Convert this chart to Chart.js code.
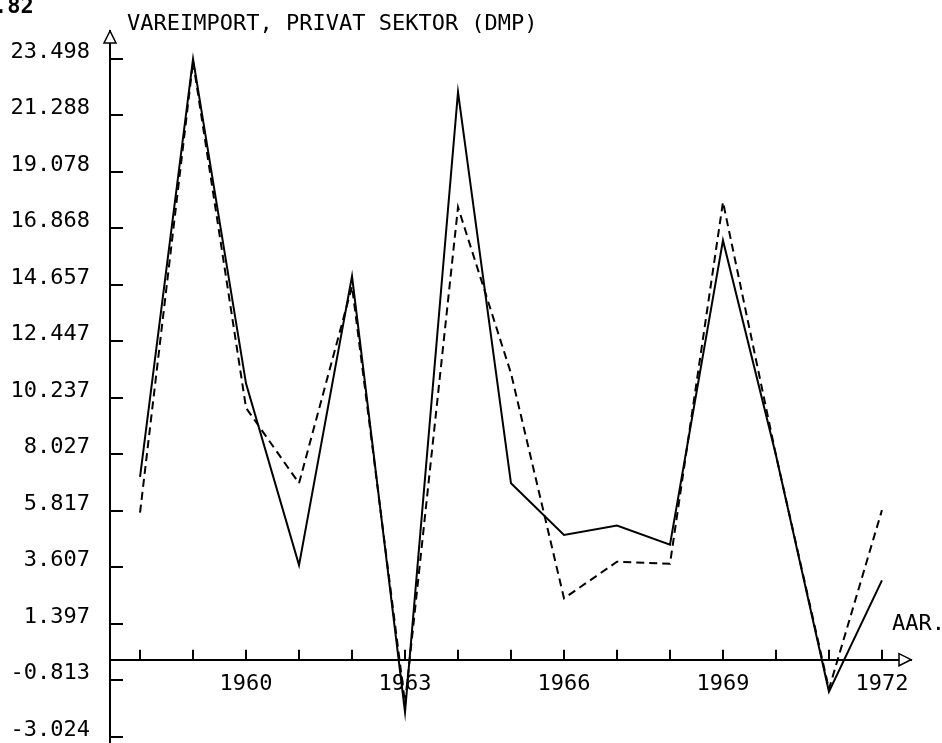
<!DOCTYPE html>
<html>
<head>
<meta charset="utf-8">
<script src="https://cdn.jsdelivr.net/npm/chart.js@4.4.1/dist/chart.umd.min.js"></script>
<style>
  html, body { margin: 0; padding: 0; background: #fff; }
  #wrap { width: 942px; height: 743px; position: relative; }
</style>
</head>
<body>
<div id="wrap"><canvas id="chart"></canvas></div>
<script>
// data
const years = [1958, 1959, 1960, 1961, 1962, 1963, 1964, 1965, 1966, 1967, 1968, 1969, 1970, 1971, 1972];
const solidValues = [7.15, 23.5, 10.8, 3.7, 15.0, -2.05, 22.2, 6.9, 4.88, 5.25, 4.5, 16.4, 8.0, -1.25, 3.1];
const dashedValues = [5.75, 23.4, 9.85, 6.9, 14.6, -1.7, 17.7, 11.2, 2.4, 3.83, 3.75, 17.9, 8.0, -1.15, 5.85];
const xTickLabels = [1960, 1963, 1966, 1969, 1972];
const yTickLabels = ['-3.024', '-0.813', '1.397', '3.607', '5.817', '8.027', '10.237',
                     '12.447', '14.657', '16.868', '19.078', '21.288', '23.498'];
const titleText = 'VAREIMPORT, PRIVAT SEKTOR (DMP)';
const axisLabelX = 'AAR.';
const pageNo = '.82';

const FONT = '"DejaVu Sans Mono", monospace';

const toPoints = vals => vals.map((v, i) => ({ x: years[i], y: v }));

// tick marks, arrow heads and loose texts
const axisDecor = {
  id: 'axisDecor',
  afterDraw(chart) {
    const { ctx, chartArea, scales: { x, y } } = chart;
    const left = chartArea.left;
    const y0 = y.getPixelForValue(0);
    ctx.save();
    ctx.strokeStyle = '#000';
    ctx.lineWidth = 2;
    ctx.beginPath();
    yTickLabels.forEach(l => {
      const py = Math.round(y.getPixelForValue(parseFloat(l)));
      ctx.moveTo(left, py);
      ctx.lineTo(left + 13, py);
    });
    years.forEach(yr => {
      const px = Math.round(x.getPixelForValue(yr));
      ctx.moveTo(px, y0);
      ctx.lineTo(px, y0 - 10);
    });
    // y axis runs on to the page edge
    ctx.moveTo(left, chartArea.bottom);
    ctx.lineTo(left, chart.height);
    ctx.stroke();

    // arrow on y axis
    const top = chartArea.top;
    ctx.lineWidth = 1.5;
    ctx.beginPath();
    ctx.moveTo(left, top);
    ctx.lineTo(left - 6, top + 12);
    ctx.lineTo(left + 6, top + 12);
    ctx.closePath();
    ctx.fillStyle = '#fff';
    ctx.fill();
    ctx.stroke();
    // arrow on x axis
    const right = chartArea.right;
    ctx.beginPath();
    ctx.moveTo(right, y0);
    ctx.lineTo(right - 12, y0 - 6);
    ctx.lineTo(right - 12, y0 + 6);
    ctx.closePath();
    ctx.fill();
    ctx.stroke();

    ctx.fillStyle = '#000';
    ctx.textAlign = 'left';
    ctx.textBaseline = 'alphabetic';
    ctx.font = '22px ' + FONT;
    ctx.fillText(titleText, 127, 30);
    ctx.fillText(axisLabelX, 892, 630);
    ctx.font = 'bold 22px ' + FONT;
    ctx.fillText(pageNo, -6, 13);
    ctx.restore();
  }
};

new Chart(document.getElementById('chart'), {
  type: 'line',
  data: {
    datasets: [
      {
        data: toPoints(solidValues),
        borderColor: '#000',
        borderWidth: 2,
        pointRadius: 0,
        tension: 0
      },
      {
        data: toPoints(dashedValues),
        borderColor: '#000',
        borderWidth: 2,
        borderDash: [8, 5],
        pointRadius: 0,
        tension: 0
      }
    ]
  },
  options: {
    responsive: true,
    maintainAspectRatio: false,
    animation: false,
    layout: { padding: { top: 31, right: 31, bottom: 6, left: 0 } },
    plugins: { legend: { display: false }, tooltip: { enabled: false } },
    scales: {
      x: {
        type: 'linear',
        position: { y: 0 },
        min: 1957.433,
        max: 1972.548,
        afterBuildTicks: s => { s.ticks = xTickLabels.map(v => ({ value: v })); },
        afterFit: s => { s.height = 0; s.paddingLeft = 0; s.paddingRight = 0; },
        grid: { display: false, drawTicks: false },
        border: { display: true, color: '#000', width: 2 },
        ticks: {
          color: '#000',
          padding: 11,
          font: { family: FONT, size: 22 },
          callback: v => String(v)
        }
      },
      y: {
        type: 'linear',
        min: -3.024,
        max: 24.59,
        afterBuildTicks: s => { s.ticks = yTickLabels.map(l => ({ value: parseFloat(l) })); },
        afterFit: s => { s.width = 110; s.paddingTop = 0; s.paddingBottom = 0; },
        grid: { display: false, drawTicks: false },
        border: { display: true, color: '#000', width: 2 },
        ticks: {
          color: '#000',
          padding: 20,
          labelOffset: -7,
          font: { family: FONT, size: 22 },
          callback: (v, i) => yTickLabels[i]
        }
      }
    }
  },
  plugins: [axisDecor]
});
</script>
</body>
</html>
